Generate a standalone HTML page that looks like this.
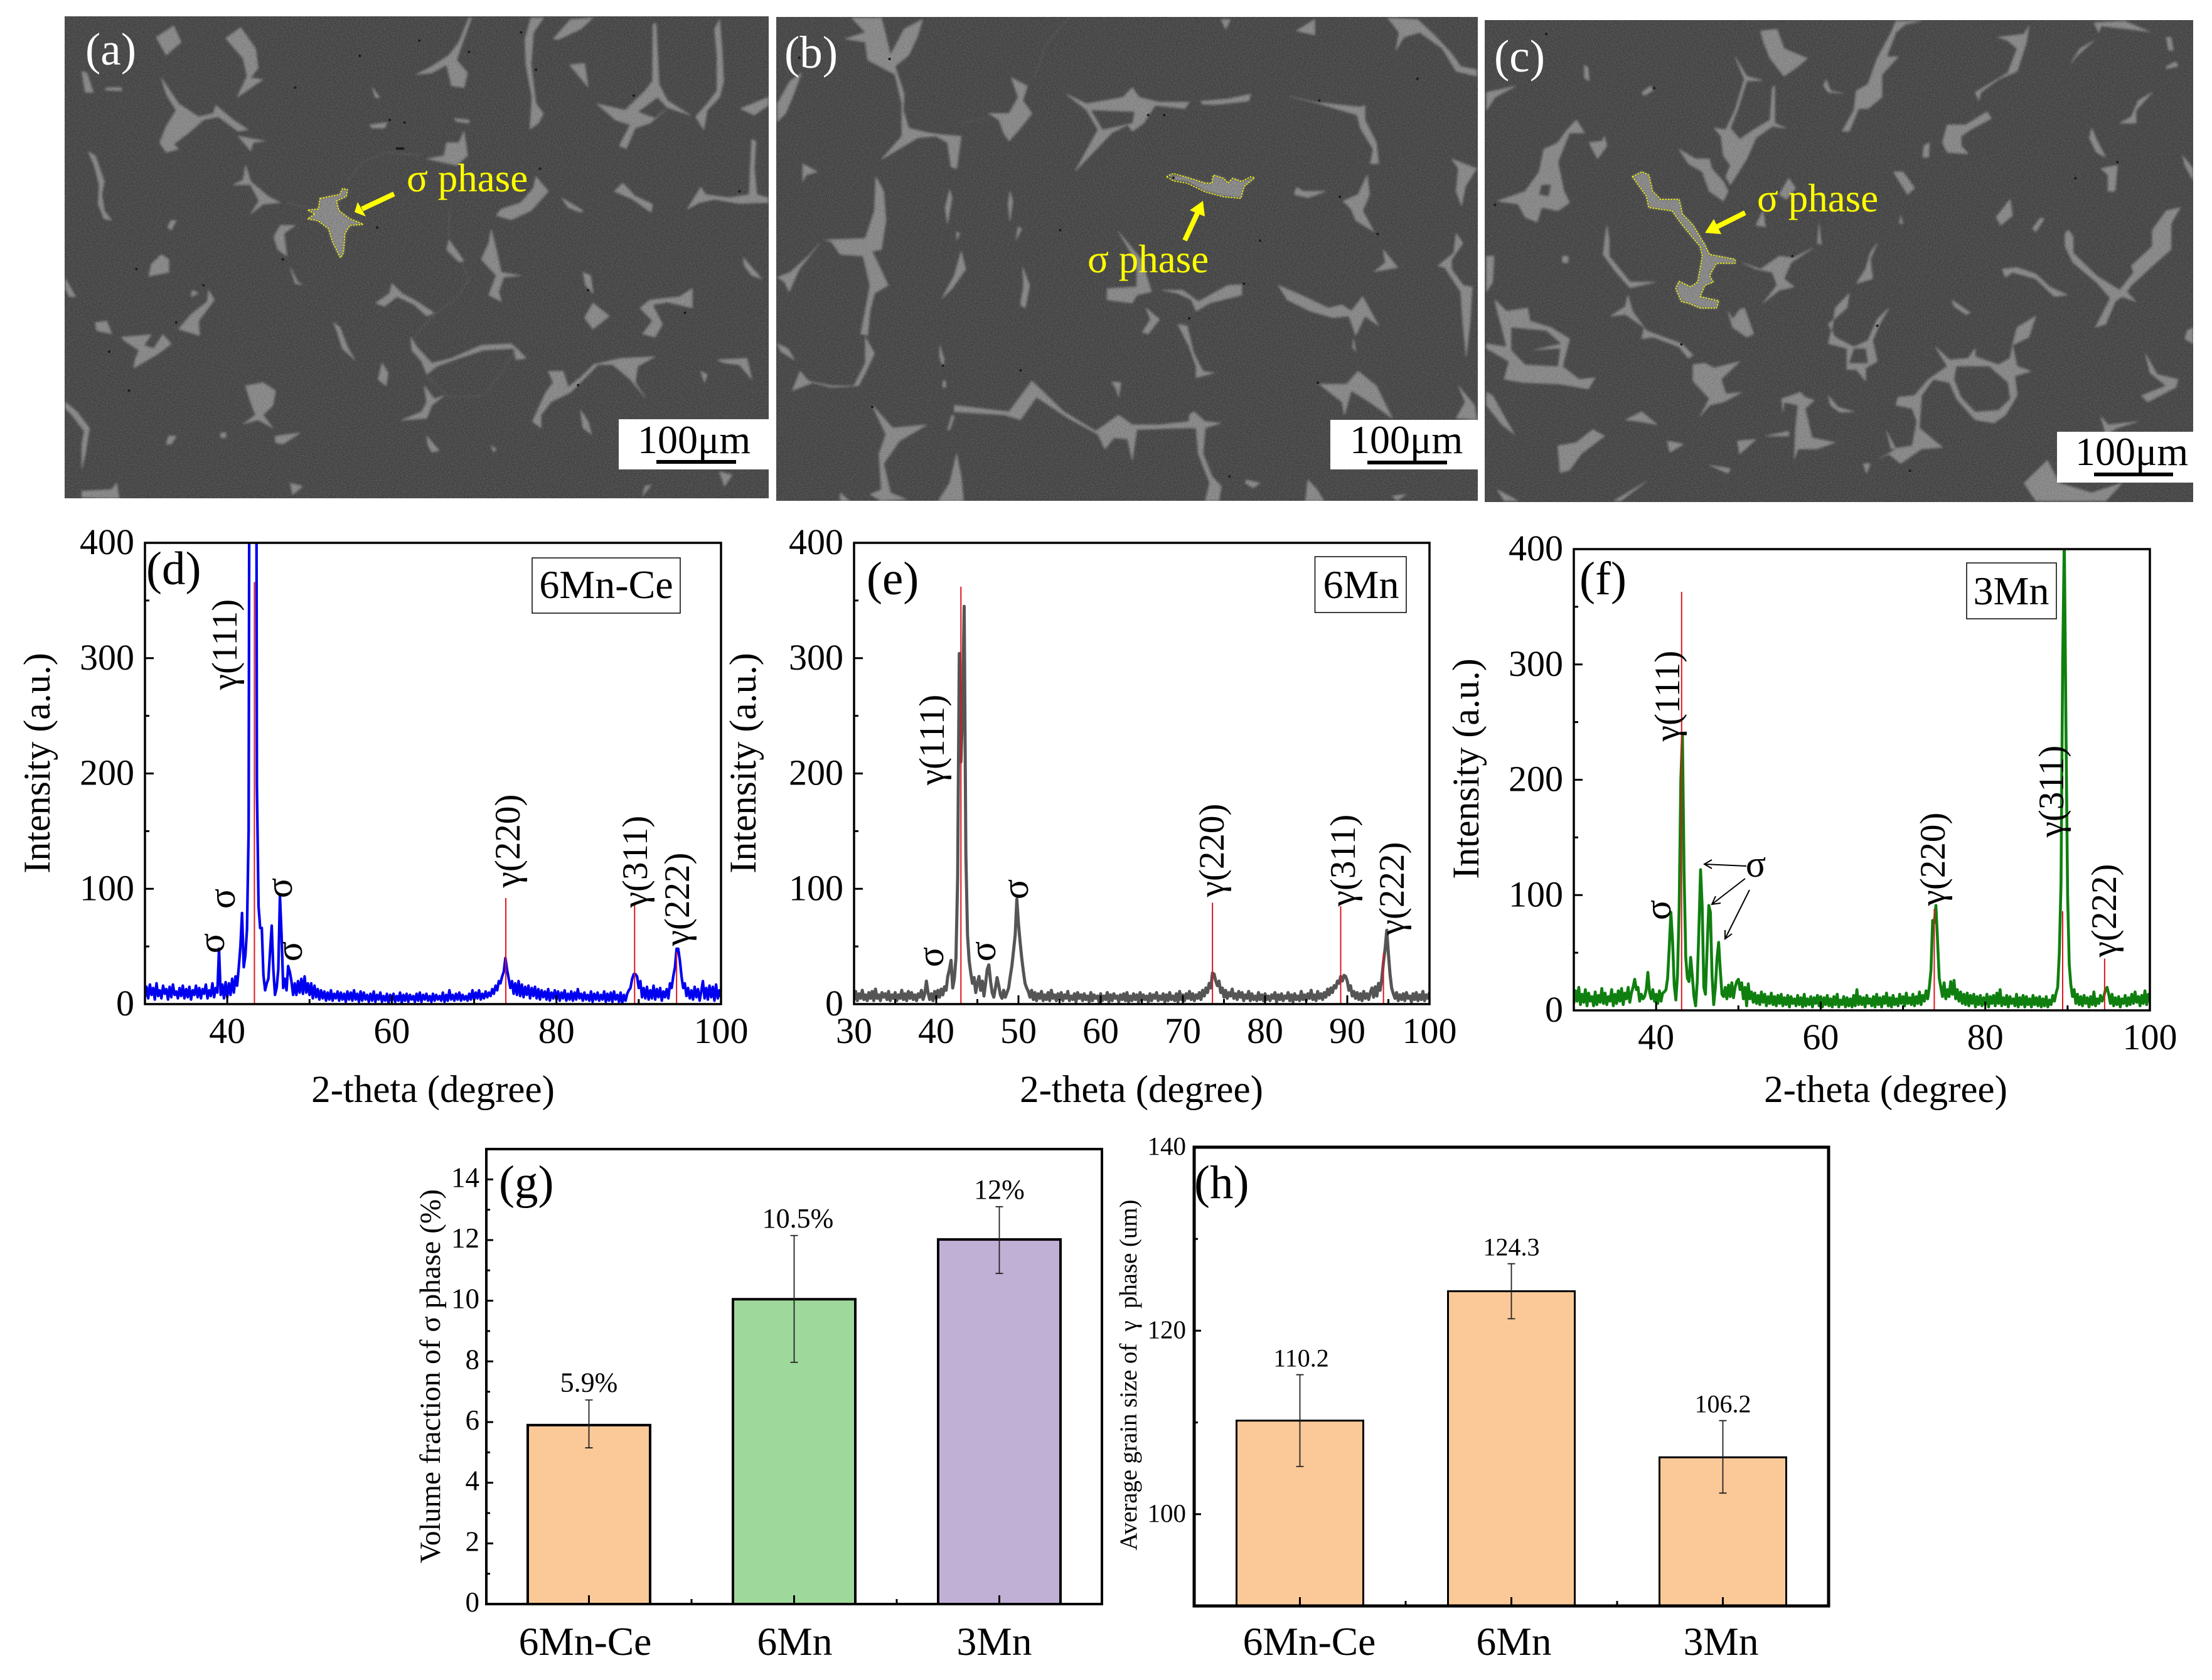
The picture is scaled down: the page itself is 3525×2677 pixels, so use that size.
<!DOCTYPE html>
<html lang="en">
<head>
<meta charset="utf-8">
<title>Microstructure, XRD and phase statistics of 6Mn-Ce, 6Mn and 3Mn alloys</title>
<style>
html,body{margin:0;padding:0;background:#fff}
svg{display:block}
text{font-family:"Liberation Serif","Noto Serif CJK SC",serif;fill:#000}
.blob{fill:#8a8a8a;stroke:#8a8a8a;stroke-width:1.5;stroke-linejoin:round}
.hole{fill:#434343}
.trace{fill:none;stroke:#626262;stroke-width:1;vector-effect:non-scaling-stroke}
.pore{fill:none;stroke:#0c0c0c;stroke-width:4;stroke-linecap:round;vector-effect:non-scaling-stroke}
.outline{fill:none;stroke:#ffff00;stroke-width:1.6;stroke-dasharray:2.5 2;vector-effect:non-scaling-stroke}
.yl{fill:#ffff00;font-size:63px}
.pl{fill:#fff;font-size:73px}
.sb{font-size:64px}
.peak{font-size:57px;text-anchor:middle}
.sig{font-size:60px;text-anchor:middle}
.leg{font-size:64px;text-anchor:middle}
.panel-tag{font-size:75px}
</style>
</head>
<body>
<svg id="figure" xmlns="http://www.w3.org/2000/svg" width="3525" height="2677" viewBox="0 0 3525 2677">
<defs>
<clipPath id="clip-a"><rect x="103" y="26" width="1122" height="768"/></clipPath>
<clipPath id="clip-b"><rect x="1237" y="27" width="1118" height="771"/></clipPath>
<clipPath id="clip-c"><rect x="2366" y="32" width="1129" height="768"/></clipPath>
<filter id="soften" x="-5%" y="-5%" width="110%" height="110%" color-interpolation-filters="sRGB"><feGaussianBlur stdDeviation="2.5 3.6"/></filter>
<filter id="grain" x="0" y="0" width="1" height="1" color-interpolation-filters="sRGB">
<feTurbulence type="fractalNoise" baseFrequency="0.55" numOctaves="2" seed="4"/>
<feColorMatrix type="matrix" values="1.6 0 0 0 -0.3  1.6 0 0 0 -0.3  1.6 0 0 0 -0.3  0 0 0 0 0.13"/>
</filter>
</defs>
<rect width="3525" height="2677" fill="#fff"/>

<!-- PANEL A -->
<g>
<rect x="103" y="26" width="1122" height="768" fill="#434343"/>
<g clip-path="url(#clip-a)"><g transform="scale(0.7908,0.5166)">
<g filter="url(#soften)">
<path class="blob" d="M315,115L350,80L365,130L335,170Z
M455,118L485,85L515,150L520,210L505,240L530,245L478,300L498,235L490,180Z
M945,55L925,130L905,170L870,205L838,230L870,225L900,200L910,265L935,270L942,225L920,185L930,140L950,55Z
M1070,55L1095,55L1075,100L1070,200L1080,320L1095,350L1085,380L1068,398L1072,300L1060,200L1058,120Z
M1115,120L1150,60L1195,55L1170,90L1125,122Z
M1203,320L1260,340L1300,280L1315,250L1316,75L1322,72L1328,260L1345,310L1392,356L1345,332L1325,300L1285,345L1320,365L1340,340L1310,380L1280,395L1262,458L1248,450L1270,385L1240,370Z
M1440,90L1450,60L1455,150L1458,250L1450,300L1425,340L1418,400L1402,360L1425,320L1445,280L1445,170Z
M1492,335L1548,300L1548,325L1520,355Z
M1148,200L1178,195L1185,268Z
M325,240L360,320L375,335L400,360L430,350L435,325L470,370L500,400L480,405L440,360L410,370L380,410L350,445L360,460L335,470L322,440L335,390L355,340L335,290Z
M165,220L175,225L188,285L172,285Z
M215,270L245,270L245,280L212,278Z
M480,420L535,435L510,440L505,465Z
M178,468L192,480L210,560L205,600L210,650L225,680L210,675L198,630L200,570L190,510Z
M495,510L505,560L540,605L565,625L530,630L505,660L522,620L505,570L470,570L490,555Z
M935,405L942,480L920,510L905,505L860,490L895,480L900,440L925,440Z
M1080,545L1105,590L1070,650L1030,678L1000,665L1010,645L1050,625L1075,580Z
M750,270L765,300L757,302Z
M745,385L780,378L775,395L750,395Z
M915,365L945,370L945,380L920,375Z
M1238,590L1255,565L1280,605L1315,630L1312,655L1275,615Z
M1132,610L1175,650L1170,655L1145,640Z
M1515,430L1523,435L1520,520L1525,600L1548,610L1548,625L1490,628L1440,615L1410,625L1385,645L1412,578L1422,600L1470,610L1510,600L1512,520Z
M645,612L685,600L690,582L700,585L698,605L678,620L683,650L705,675L732,692L705,695L695,720L692,780L686,795L670,745L662,705L640,680L620,675L635,660L620,648L642,645Z
M565,695L595,695L572,720L578,790L560,770L552,730Z
M345,680L355,680L345,710L338,700Z
M325,785L340,800L340,840L300,852L305,815Z
M585,825L600,870L610,878L595,875Z
M132,860L152,915L140,915L132,890Z
M990,708L1000,770L1010,840L1050,850L1015,855L1005,900L1010,930L985,910L1000,850L970,800L985,750Z
M905,740L935,805L925,808L900,770Z
M1498,795L1535,860L1515,850L1500,820Z
M1175,840L1190,850L1195,905L1180,880Z
M790,875L810,905L840,930L875,965L860,975L835,940L800,915L775,945L757,935L785,905Z
M388,895L400,905L385,915Z
M420,895L432,925L400,990L402,1035L360,1015L385,970L418,930Z
M1395,890L1395,950L1345,932L1315,940L1335,1000L1320,1040L1295,1030L1315,990L1290,950L1310,925L1370,915Z
M1195,935L1228,975L1195,1015L1178,980Z
M192,995L215,990L225,1030L195,1020Z
M245,1040L305,1032L290,1065L310,1075L328,1032L345,1060L320,1090L270,1135L272,1110L280,1080L250,1050Z
M672,995L685,1010L700,1070L715,1110L690,1075L680,1025Z
M828,1040L840,1070L870,1120L910,1105L970,1065L1030,1060L1045,1080L1060,1105L1040,1110L1035,1075L975,1080L925,1105L880,1130L860,1155L850,1115L830,1080Z
M770,1120L782,1150L778,1190L762,1170Z
M1105,1145L1135,1145L1145,1195L1180,1150L1195,1125L1250,1105L1320,1100L1285,1130L1280,1180L1300,1225L1270,1170L1235,1125L1205,1125L1150,1210L1110,1240L1090,1280L1090,1320L1073,1300L1100,1210L1115,1180Z
M1445,1110L1505,1105L1515,1170L1490,1125L1460,1120Z
M1412,1145L1425,1155L1420,1180Z
M855,1190L875,1230L895,1220L870,1250L860,1290L808,1297L850,1270L860,1240Z
M495,1190L530,1180L555,1205L550,1250L530,1280L550,1320L520,1295L490,1308L515,1280L505,1240Z
M132,1240L155,1270L180,1320L172,1400L165,1445L165,1370L170,1330L145,1280L132,1260Z
M1170,1265L1185,1300L1192,1340L1175,1320Z
M555,1345L605,1335L570,1370L555,1365Z
M340,1345L355,1345L345,1370L335,1370Z
M445,1335h10v15h-10z
M860,1345L885,1390L870,1395L862,1370Z
M165,1515L225,1510L235,1490L240,1538L165,1535Z
M585,1490L610,1500L590,1525Z
M1300,1500L1312,1495L1295,1530Z
M1450,1455L1475,1465L1460,1500Z
M990,1375L1000,1385L995,1395Z"/>
<path class="trace" d="M578,625L620,640M700,560L730,500L780,470L850,480M905,640L905,740M930,810L945,860L920,920L880,965L850,1010L835,1040M1165,1170L1195,1125M860,1160L905,1225L975,1220L1020,1130L1040,1075"/>
</g>
<path class="pore" d="M1080,215h.1M945,160h.1M845,125h.1M725,172h.1M1050,100h.1M1185,895h.1M1165,1188h.1M260,1205h.1M275,830h.1M220,1085h.1M1088,520h.1M800,458h12M785,370h.1M815,378h.1M1277,295h.1M595,270h.1M1490,590h.1M1380,965h.1M355,995h.1M410,880h.1M570,800h.1M760,702h.1"/>
</g></g>
<rect x="103" y="26" width="1122" height="768" filter="url(#grain)"/>
<g transform="scale(0.7908,0.5166)"><path class="outline" d="M645,612L685,600L690,582L700,585L698,605L678,620L683,650L705,675L732,692L705,695L695,720L692,780L686,795L670,745L662,705L640,680L620,675L635,660L620,648L642,645Z"/></g>
<text class="pl" x="136" y="103">(a)</text>
<text class="yl" x="648" y="305">σ phase</text>
<line x1="628" y1="309" x2="577" y2="333" stroke="#ffff00" stroke-width="8"/>
<polygon points="565,338 570,322 583,345" fill="#ffff00"/>
<rect x="986" y="668" width="239" height="80" fill="#fff"/>
<text class="sb" x="1016" y="722">100μm</text>
<rect x="1046" y="733" width="127" height="6" fill="#000"/>
</g>

<!-- PANEL B -->
<g>
<rect x="1237" y="27" width="1118" height="771" fill="#434343"/>
<g clip-path="url(#clip-b)"><g transform="translate(1230,0) scale(0.7270,0.5166)">
<g filter="url(#soften)">
<path class="blob" d="M175,55L240,55L250,110L260,170L290,90L330,60L320,110L300,170L270,205L290,290L288,340L300,395L345,410L370,415L415,420L405,520L393,515L385,440L360,420L320,425L240,492L285,420L285,320L270,230L210,185L205,130L160,120L205,100Z
M12,320L40,250L65,225L45,300L30,350L12,375Z
M68,505L100,530L75,540L68,560Z
M525,240L560,265L550,310L570,350L545,395L520,435L508,410L498,370L475,350L520,350L540,300Z
M645,290L690,320L770,300L790,270L805,300L850,315L915,315L905,335L840,325L815,380L790,405L780,385L745,410L665,528L715,400L690,340Z
M940,312L1000,305L1050,290L1045,312L980,322L945,322Z
M1135,298L1190,315L1290,330L1300,325L1300,370L1325,440L1330,505L1312,505L1318,460L1290,395L1283,355L1200,320Z
M1350,55L1415,60L1450,105L1490,165L1510,205L1545,215L1545,235L1500,220L1470,150L1420,100L1385,115L1368,155L1375,100Z
M985,60L1005,60L995,90Z
M1150,95L1190,60L1190,108Z
M1490,490L1545,520L1520,575L1512,635L1500,590L1505,520Z
M870,538L905,545L950,565L965,565L968,540L990,550L1000,565L1010,550L1030,560L1050,550L1058,548L1035,575L1028,610L990,605L950,590L910,560L880,555Z
M1150,578L1165,590L1215,590L1175,610L1145,600Z
M1305,540L1310,600L1295,650L1320,715L1280,680L1270,645L1252,620L1285,600Z
M228,545L245,590L250,680L240,770L220,775L255,880L225,905L215,960L210,1035L195,1030L210,920L215,880L200,790L150,785L130,745L115,740L205,735L225,650Z
M105,750L60,830L38,900L28,870L12,855L40,840L80,790Z
M390,585L395,610L385,690L380,640Z
M522,590L528,620L522,682L518,630Z
M540,700L548,705L535,740Z
M405,715L412,720L405,740Z
M415,775L425,830L395,890L373,920L400,850Z
M550,825L565,880L555,950L545,940L552,880Z
M760,715L810,800L832,900L800,910L790,935L735,925L735,890L800,885L800,810Z
M855,895L900,895L935,930L1000,880L1030,878L1030,910L960,935L930,960L920,925L890,905Z
M1110,880L1160,910L1220,950L1250,940L1270,960L1295,915L1330,1005L1300,975L1280,1035L1265,975L1230,980L1180,960L1130,925Z
M820,950L850,985L825,1030L812,1025L830,985Z
M890,1000L910,1005L925,1090L945,1145L970,1150L930,1165L930,1130L915,1070Z
M1340,770L1372,825L1320,838L1345,810Z
M1500,720L1515,750L1490,800L1490,830L1515,880L1535,885L1530,1000L1522,1100L1515,1000L1510,900L1475,825L1460,820L1495,780Z
M12,1060L35,1075L50,1110L20,1085Z
M205,1040L225,1090L205,1150L190,1190L130,1195L90,1180L45,1205L62,1145L80,1175L130,1190L180,1190L205,1120Z
M368,1065L378,1110L375,1130L368,1100Z
M375,1175h6v20h-6z
M400,1250L520,1270L570,1175L640,1270L710,1330L760,1280L790,1310L850,1310L915,1300L915,1280L925,1270L950,1300L985,1305L950,1320L945,1400L965,1470L985,1500L980,1545L950,1545L960,1490L935,1400L930,1320L910,1320L800,1325L790,1420L780,1355L750,1350L730,1385L715,1340L650,1290L580,1225L545,1295L510,1280L400,1270Z
M745,1178L765,1180L760,1225L755,1200Z
M1200,1185L1260,1185L1285,1145L1325,1190L1360,1290L1310,1240L1270,1205L1255,1280L1250,1240Z
M220,1250L265,1320L340,1310L280,1360L245,1430L260,1520L295,1540L240,1545L215,1525L240,1510L235,1400L250,1340Z
M395,1280L400,1285L390,1325L385,1325Z
M405,1400L415,1470L420,1545L365,1545L390,1490Z
M1040,1480L1070,1490L1055,1505L1038,1490Z
M1175,1480L1195,1510L1210,1545L1170,1545Z
M1505,1190L1540,1250L1545,1295L1500,1290L1520,1240Z
M1275,1045L1280,1085L1273,1070Z
M150,1520L170,1545L150,1545Z
M1360,1530L1390,1525L1370,1545Z"/>
<path class="hole" d="M700,340L795,345L790,380L725,400Z"/>
<path class="trace" d="M650,55L600,140L575,240M415,378L470,365"/>
</g>
<path class="pore" d="M1070,742h.1M1035,875h.1M1245,607h.1M1197,1180h.1M545,1142h.1M375,1128h.1M632,710h.1M915,982h.1M220,1255h.1M1003,1470h.1M860,355h.1M825,355h.1M258,182h.1M60,178h.1M1200,310h.1M1415,243h.1M1328,722h.1M880,548h.1"/>
</g></g>
<rect x="1237" y="27" width="1118" height="771" filter="url(#grain)"/>
<g transform="translate(1230,0) scale(0.7270,0.5166)"><path class="outline" d="M865,545L880,535L905,545L950,565L965,565L968,540L990,550L1000,565L1010,550L1030,560L1050,545L1058,548L1035,575L1028,612L990,607L950,592L910,565L880,558Z"/></g>
<text class="pl" x="1250" y="108">(b)</text>
<text class="yl" x="1733" y="434">σ phase</text>
<line x1="1888" y1="383" x2="1908" y2="340" stroke="#ffff00" stroke-width="8"/>
<polygon points="1917,320 1920,345 1896,335" fill="#ffff00"/>
<rect x="2120" y="669" width="235" height="79" fill="#fff"/>
<text class="sb" x="2151" y="722">100μm</text>
<rect x="2179" y="734" width="127" height="6" fill="#000"/>
</g>

<!-- PANEL C -->
<g>
<rect x="2366" y="32" width="1129" height="768" fill="#434343"/>
<g clip-path="url(#clip-c)"><g transform="translate(2360,0) scale(0.7430,0.5166)">
<g filter="url(#soften)">
<path class="blob" d="M600,95L635,90L650,150L700,180L680,205L650,235L620,180L605,125Z
M545,175L570,235L605,248L570,250L550,340L535,395L555,430L585,400L620,370L625,270L630,265L630,380L655,395L625,390L590,425L570,490L535,570L525,545L535,510L520,480L515,420L500,395L525,400L545,340L565,245Z
M425,460L460,490L490,490L495,520L520,560L530,590L520,620L490,590L475,530L445,505Z
M880,100L890,65L945,65L910,75L890,100L870,175L895,175L860,230L860,300L830,335L810,335L790,405L775,405L800,340L805,280L830,260L850,180Z
M1108,115L1165,105L1175,80L1170,130L1150,220L1110,245L1072,285L1068,310L1060,285L1130,225L1150,150L1130,125Z
M1315,70L1380,65L1435,98L1390,90L1330,80L1325,100Z
M1285,150L1315,125L1280,170L1265,195Z
M1470,115L1480,115L1485,155L1475,155Z
M1470,205L1490,190L1495,205L1470,212Z
M222,200L230,210L232,250L222,240Z
M740,245L750,280L778,288L745,285L735,265Z
M345,285L365,265L368,280L350,295Z
M12,285L75,265L30,300L12,340Z
M205,370L222,410L190,410L165,500L178,590L190,625L165,650L130,640L120,685L95,670L80,630L35,620L95,590L125,530L135,460L165,440L185,400Z
M265,420L270,450L250,490L232,440L260,435Z
M1085,345L1095,365L1050,400L1030,420L1030,450L1045,475L1000,470L990,440L1000,385L1040,385Z
M1440,285L1405,340L1405,380L1370,380L1395,360L1410,310Z
M1310,395L1320,430L1340,485L1320,470L1305,425Z
M950,450L962,440L960,485L948,485Z
M885,530L905,530L930,580L915,600Z
M1345,515L1365,510L1360,590L1345,590L1345,540L1330,520Z
M1505,480L1527,520L1527,555L1510,510Z
M325,545L345,530L360,540L368,590L385,615L425,615L432,660L455,695L480,755L490,785L545,800L545,812L505,812L490,850L498,870L480,880L470,915L510,928L505,950L470,950L445,935L430,930L418,890L425,868L450,885L465,870L475,790L470,760L430,690L410,650L360,640L355,605Z
M1135,615L1140,665L1115,695L1105,670Z
M1200,672L1208,675L1190,715L1183,705Z
M900,665L905,690L898,690Z
M725,690L730,755L722,750Z
M605,650L610,700L590,695Z
M270,695L275,740L275,790L320,870L375,870L320,888L290,840L262,785Z
M660,550L675,580L655,615L640,600Z
M850,750L835,800L840,860L805,875L825,830L835,780Z
M712,765L665,810L650,860L672,885L640,895L605,935L635,880L625,840L590,830L560,810L600,830L640,790L670,795Z
M1260,710L1270,730L1270,780L1320,850L1370,895L1400,840L1395,820L1440,760L1440,710L1470,650L1500,640L1480,690L1480,770L1440,820L1395,880L1385,900L1405,930L1375,915L1360,930L1340,1000L1318,1010L1350,920L1320,870L1270,810L1253,760L1253,720Z
M1118,830L1150,825L1190,845L1220,885L1258,910L1230,915L1190,860L1140,840L1125,855Z
M12,790L28,790L25,870L12,900Z
M175,790h12v20h-12z
M1010,925L1050,965L1040,970L1015,945Z
M315,910L325,960L355,1020L430,1060L455,1095L445,1105L425,1070L370,1040L345,1045L350,1010L310,970L278,975L310,945Z
M790,905L785,950L745,1000L760,1040L800,1070L830,1050L850,985L875,950L855,1000L840,1050L850,1115L825,1135L825,1175L805,1140L785,1140L785,1075L745,1060L755,1000L760,950Z
M530,960L540,985L555,955L565,950L585,1030L570,1040L540,1010Z
M1190,975L1175,1040L1140,1065L1150,1010Z
M975,1070L1005,1110L1045,1105L1060,1075L1060,1100L1110,1125L1135,1105L1140,1065L1150,1130L1180,1145L1145,1160L1150,1220L1125,1280L1100,1305L1060,1295L1020,1230L1005,1180L970,1170L945,1220L940,1320L990,1380L945,1385L900,1430L875,1400L855,1415L890,1385L870,1330L880,1385L925,1375L935,1300L925,1260L890,1250L895,1225L930,1220L960,1170L1000,1130Z
M30,925L55,960L100,950L105,990L150,1010L190,1045L175,1130L210,1170L245,1165L230,1200L170,1185L90,1180L50,1170L60,1115L12,1075L12,1060L55,1070L45,1010L35,960Z
M455,1125L480,1120L500,1135L555,1115L515,1170L525,1215L560,1210L520,1240L490,1250L470,1285L490,1230L455,1175Z
M12,1210L25,1220L50,1285L72,1340L45,1310L12,1250Z
M645,1230L685,1210L695,1225L715,1235L695,1260L710,1350L760,1365L720,1385L680,1385L672,1415L675,1320L680,1250L650,1240L648,1270Z
M745,1220L765,1255L800,1270L770,1272L750,1250Z
M240,1325L265,1345L215,1400L190,1450L170,1458L165,1375L205,1365Z
M345,1270L378,1310L340,1300L310,1295Z
M400,1360L435,1370L405,1395Z
M550,1360L590,1355L555,1400Z
M660,1330L610,1345L660,1345Z
M490,1435L535,1445L530,1460Z
M1425,1090L1450,1155L1495,1170L1490,1195L1430,1240L1417,1220L1470,1190L1435,1150Z
M1330,1285L1345,1310L1410,1300L1365,1320L1340,1340Z
M1515,1020L1527,1010L1527,1060L1510,1045Z
M1165,1490L1215,1420L1240,1490L1310,1520L1375,1490L1340,1545L1190,1545Z
M355,1485L300,1545L285,1545Z
M35,1510L80,1545L50,1545Z
M820,1430h15l-8,30z"/>
<path class="hole" d="M130,570L150,570L145,605L125,600Z
M800,1075L825,1075L830,1120L790,1120Z
M1020,1130L1090,1130L1130,1180L1135,1230L1110,1265L1060,1270L1030,1225L1015,1170Z
M65,1010L140,1020L172,1060L110,1080L170,1075L165,1130L95,1125L65,1080Z"/>
</g>
<path class="pore" d="M372,272h.1M30,632h.1M140,105h.1M1365,500h.1M1275,550h.1M430,1062h.1M668,790h.1M920,1452h.1M850,1005h.1"/>
</g></g>
<rect x="2366" y="32" width="1129" height="768" filter="url(#grain)"/>
<g transform="translate(2360,0) scale(0.7430,0.5166)"><path class="outline" d="M325,545L345,530L360,540L368,590L385,615L425,615L432,660L455,695L480,755L490,785L545,800L545,812L505,812L490,850L498,870L480,880L470,915L510,928L505,950L470,950L445,935L430,930L418,890L425,868L450,885L465,870L475,790L470,760L430,690L410,650L360,640L355,605Z"/></g>
<text class="pl" x="2381" y="114">(c)</text>
<text class="yl" x="2800" y="337">σ phase</text>
<line x1="2781" y1="339" x2="2737" y2="361" stroke="#ffff00" stroke-width="8"/>
<polygon points="2717,371 2743,373 2731,349" fill="#ffff00"/>
<rect x="3278" y="688" width="217" height="81" fill="#fff"/>
<text class="sb" x="3307" y="741">100μm</text>
<rect x="3337" y="753" width="126" height="6" fill="#000"/>
</g>

<g id="charts"></g>

<!-- Annotations on XRD panels -->
<g>
<text class="panel-tag" x="233" y="931">(d)</text>
<rect x="848" y="889" width="236" height="88" fill="#fff" stroke="#000" stroke-width="1.5"/>
<text class="leg" x="966" y="953">6Mn-Ce</text>
<text class="peak" transform="translate(377,1027) rotate(-90)">γ(111)</text>
<text class="peak" transform="translate(828,1340) rotate(-90)">γ(220)</text>
<text class="peak" transform="translate(1031,1373) rotate(-90)">γ(311)</text>
<text class="peak" transform="translate(1098,1433) rotate(-90)">γ(222)</text>
<text class="sig" dy="13" transform="translate(344,1503) rotate(-90)">σ</text>
<text class="sig" dy="13" transform="translate(361,1432) rotate(-90)">σ</text>
<text class="sig" dy="13" transform="translate(452,1415) rotate(-90)">σ</text>
<text class="sig" dy="13" transform="translate(468,1516) rotate(-90)">σ</text>
</g>
<g>
<text class="panel-tag" x="1381" y="947">(e)</text>
<rect x="2095.5" y="887" width="145.5" height="89" fill="#fff" stroke="#000" stroke-width="1.5"/>
<text class="leg" x="2169" y="953">6Mn</text>
<text class="peak" transform="translate(1504,1179) rotate(-90)">γ(111)</text>
<text class="peak" transform="translate(1950,1355) rotate(-90)">γ(220)</text>
<text class="peak" transform="translate(2159,1371) rotate(-90)">γ(311)</text>
<text class="peak" transform="translate(2237,1416) rotate(-90)">γ(222)</text>
<text class="sig" dy="13" transform="translate(1490,1525) rotate(-90)">σ</text>
<text class="sig" dy="13" transform="translate(1573,1516) rotate(-90)">σ</text>
<text class="sig" dy="13" transform="translate(1625,1417) rotate(-90)">σ</text>
</g>
<g>
<text class="panel-tag" x="2517" y="947">(f)</text>
<rect x="3134" y="897" width="143" height="89" fill="#fff" stroke="#000" stroke-width="1.5"/>
<text class="leg" x="3205" y="963">3Mn</text>
<text class="peak" transform="translate(2676,1109) rotate(-90)">γ(111)</text>
<text class="peak" transform="translate(3099,1369) rotate(-90)">γ(220)</text>
<text class="peak" transform="translate(3288,1261) rotate(-90)">γ(311)</text>
<text class="peak" transform="translate(3372,1451) rotate(-90)">γ(222)</text>
<text class="sig" dy="13" transform="translate(2649,1450) rotate(-90)">σ</text>
<text class="sig" x="2798" y="1397">σ</text>
<g fill="none" stroke="#000" stroke-width="2">
<path d="M2783,1380L2716,1377M2728,1370L2716,1377L2728,1384"/>
<path d="M2781,1400L2728,1441M2734,1428L2728,1441L2742,1439"/>
<path d="M2788,1418L2749,1496M2749,1482L2749,1496L2760,1488"/>
</g>
</g>
<g>
<text class="panel-tag" x="795" y="1909">(g)</text>
<text class="panel-tag" x="1903" y="1909">(h)</text>
</g>
</svg>

<script>
const NS = 'http://www.w3.org/2000/svg';
const thetaStart = 30;
const thetaStep = 0.2;

const dCounts = [
6,15,5,17,8,14,4,18,7,12,5,16,9,13,4,15,6,17,8,11,5,14,7,16,5,
13,6,15,4,12,8,16,6,14,5,13,9,17,5,12,7,18,6,14,10,48,8,17,5,19,
6,18,8,22,10,24,16,32,50,79,32,42,65,150,900,1600,1700,1100,190,85,66,66,25,12,18,
22,45,68,30,8,14,30,94,60,14,22,12,33,28,20,8,18,8,20,10,22,9,24,10,18,
8,18,5,16,6,13,4,12,5,11,3,10,4,12,3,9,5,11,3,10,4,9,2,11,4,
10,3,12,4,9,2,11,3,10,4,8,2,9,3,11,2,8,4,10,2,7,3,9,1,8,
3,9,2,7,3,10,1,8,3,9,2,8,4,7,2,9,3,10,2,8,4,9,3,7,2,
9,3,8,4,7,3,10,2,8,3,12,4,8,3,9,4,10,3,8,4,7,3,9,4,12,
4,10,5,12,4,9,5,11,6,10,7,13,9,16,12,20,18,24,28,40,30,22,14,20,9,
18,8,20,7,17,6,15,8,16,5,14,7,15,5,13,4,12,6,11,4,13,3,10,5,12,
4,11,3,10,5,12,3,9,4,11,3,10,4,13,5,9,3,10,4,8,3,11,2,9,4,
10,3,8,4,11,2,9,3,10,2,11,4,8,2,10,1,8,3,9,12,14,22,26,26,24,
14,20,6,14,5,15,4,12,5,16,4,13,6,14,3,11,6,13,5,18,14,24,32,48,48,
38,24,14,18,7,14,5,12,4,15,6,13,3,11,20,5,14,4,16,6,15,3,17,5,12,
6];

const eCounts = [
4,11,3,9,5,12,4,8,3,10,5,11,3,13,5,8,3,10,6,9,4,11,3,8,5,
10,3,8,5,12,4,9,3,11,5,10,4,8,3,9,6,12,4,9,20,10,4,9,3,11,
5,12,6,13,8,15,12,24,30,38,14,22,40,110,304,210,255,345,130,60,38,27,18,23,10,
18,24,12,20,7,18,30,34,20,10,6,14,23,16,8,5,12,6,10,14,24,33,46,60,91,
70,54,40,28,18,14,11,6,12,4,10,3,9,5,11,3,8,4,10,3,12,5,8,3,9,
4,10,3,8,5,11,3,7,4,9,2,10,5,8,3,9,4,7,2,10,3,8,5,7,2,
9,3,7,4,10,2,8,3,9,5,7,2,8,4,9,3,10,2,7,3,9,4,8,2,10,
3,8,4,7,2,9,3,8,5,10,3,7,4,9,2,8,3,10,4,7,3,9,2,11,4,
8,3,9,5,11,4,9,3,8,5,10,4,12,7,14,10,18,14,27,26,20,16,20,10,14,
6,12,5,10,7,13,5,9,4,11,6,10,3,8,5,11,3,9,4,7,3,10,4,8,3,
9,4,7,3,8,5,10,2,8,4,9,3,7,5,10,3,8,2,9,4,7,3,11,4,8,
3,9,5,12,4,8,3,11,5,9,4,10,6,13,8,14,10,16,14,20,18,24,20,25,24,
20,12,16,7,11,5,10,4,9,3,11,5,9,4,10,14,6,15,7,18,12,22,36,48,64,
44,26,14,9,5,10,3,8,4,9,3,10,5,7,2,9,4,10,3,8,4,11,3,8,5,
10];

const fCounts = [
6,17,8,20,5,14,7,18,4,15,8,12,4,16,5,13,7,19,6,15,5,12,8,18,4,
14,6,17,8,19,5,15,10,20,7,15,20,27,18,20,8,14,10,12,18,33,16,10,18,8,
14,6,17,8,15,16,18,28,55,85,60,22,9,30,90,200,239,120,46,28,25,46,30,12,4,
25,70,122,90,20,14,55,91,85,30,5,20,45,59,35,14,12,20,10,22,12,24,11,20,25,
27,18,24,10,20,4,23,10,16,7,15,6,13,5,16,7,14,4,12,6,15,5,12,4,13,
6,14,4,11,5,13,3,12,6,10,4,13,5,11,3,14,4,10,5,12,3,11,6,13,4,
12,3,11,5,13,4,10,3,12,5,14,3,9,5,12,3,11,4,10,3,13,4,18,5,12,
5,11,3,13,6,10,4,12,3,14,5,11,3,12,6,15,4,11,3,13,5,10,4,14,6,
12,4,15,6,11,5,14,4,12,6,16,5,13,8,17,10,20,35,78,76,91,60,28,20,12,
24,10,18,12,25,14,26,10,18,8,16,6,14,5,15,4,13,6,14,3,12,5,13,4,11,
5,14,3,12,6,13,4,15,6,18,4,11,5,13,3,12,6,10,4,14,3,11,5,13,3,
12,5,10,3,13,5,11,4,12,3,10,4,12,3,9,5,13,8,15,20,50,110,300,410,250,
100,40,22,12,18,6,14,5,12,4,13,6,11,3,12,5,16,4,10,6,13,8,12,18,20,
14,6,14,4,11,5,12,3,10,6,13,4,11,5,14,6,16,7,12,4,13,6,17,5,14,
7];

const dRefTheta = [43.3, 73.85, 89.5, 94.6];
const dRefHeight = [366, 92, 88, 45];
const eRefTheta = [43.0, 73.6, 89.2, 94.4];
const eRefHeight = [362, 88, 85, 44];
const fRefTheta = [43.1, 73.8, 89.4, 94.5];
const fRefHeight = [363, 88, 86, 45];

const dTickLabels = [40, 60, 80, 100];
const eTickLabels = [30, 40, 50, 60, 70, 80, 90, 100];
const fTickLabels = [40, 60, 80, 100];
const yTickLabels = [0, 100, 200, 300, 400];

const gCategories = ['6Mn-Ce', '6Mn', '3Mn'];
const gValues = [5.9, 10.05, 12.02];
const gErrHigh = [6.73, 12.15, 13.1];
const gErrLow = [5.15, 7.97, 10.9];
const gPrinted = ['5.9%', '10.5%', '12%'];
const gFills = ['#fbc998', '#9fd89b', '#c0b0d6'];
const gYTicks = [0, 2, 4, 6, 8, 10, 12, 14];

const hCategories = ['6Mn-Ce', '6Mn', '3Mn'];
const hValues = [110.2, 124.3, 106.2];
const hErrHigh = [115.2, 127.3, 110.2];
const hErrLow = [105.2, 121.3, 102.3];
const hPrinted = ['110.2', '124.3', '106.2'];
const hFills = ['#fbc998', '#fbc998', '#fbc998'];
const hYTicks = [100, 120, 140];

const layer = document.getElementById('charts');

function add(parent, tag, attrs, txt) {
  const el = document.createElementNS(NS, tag);
  for (const k in attrs) el.setAttribute(k, attrs[k]);
  if (txt !== undefined) el.textContent = txt;
  parent.appendChild(el);
  return el;
}

function drawXrd(o) {
  const sx = v => o.left + (v - 30) * (o.right - o.left) / 70;
  const sy = v => o.bottom - v * (o.bottom - o.top) / 400;
  const g = add(layer, 'g', {});
  
  

  const clip = add(g, 'clipPath', { id: 'plot-clip-' + o.id });
  add(clip, 'rect', { x: o.left, y: o.top, width: o.right - o.left, height: o.bottom - o.top });

  const pts = o.counts.map((c, i) => sx(thetaStart + i * thetaStep).toFixed(1) + ',' + sy(c).toFixed(1)).join(' ');
  const trace = add(g, 'polyline', { points: pts, fill: 'none', stroke: o.color, 'stroke-width': o.width, 'stroke-linejoin': 'round', 'clip-path': 'url(#plot-clip-' + o.id + ')' });
  
  

  o.refTheta.forEach((t, i) => {
    const ref = add(g, 'line', { x1: sx(t), x2: sx(t), y1: sy(0), y2: sy(o.refHeight[i]), stroke: '#e0141e', 'stroke-width': 2 });
    
    
  });

  const frame = add(g, 'rect', { x: o.left, y: o.top, width: o.right - o.left, height: o.bottom - o.top, fill: 'none', stroke: '#000', 'stroke-width': 3.5 });
  
  

  for (let v = 30; v <= 100; v += o.minorX) {
    const isMajor = o.ticks.includes(v);
    const t = add(g, 'line', { x1: sx(v), x2: sx(v), y1: o.bottom, y2: o.bottom - (isMajor ? 14 : 8), stroke: '#000', 'stroke-width': 3 });
    
    
  }
  o.ticks.forEach(v => {
    const lab = add(g, 'text', { x: sx(v), y: o.bottom + 62, 'text-anchor': 'middle', 'font-size': 58 }, String(v));
    
    
  });
  for (let v = 0; v <= 400; v += 50) {
    const t = add(g, 'line', { x1: o.left, x2: o.left + (v % 100 === 0 ? 14 : 7), y1: sy(v), y2: sy(v), stroke: '#000', 'stroke-width': 3 });
    
    
  }
  yTickLabels.forEach(v => {
    const lab = add(g, 'text', { x: o.left - 17, y: sy(v) + 18, 'text-anchor': 'end', 'font-size': 58 }, String(v));
    
    
  });
  const xt = add(g, 'text', { x: o.xTitleX, y: 1756, 'text-anchor': 'middle', 'font-size': 61 }, '2-theta (degree)');
  
  
  const yt = add(g, 'text', { transform: 'translate(' + o.yTitleX + ',' + o.yTitleY + ') rotate(-90)', 'text-anchor': 'middle', 'font-size': 60 }, 'Intensity (a.u.)');
  
  
}

drawXrd({ id: 'd', left: 231, right: 1149, top: 865, bottom: 1600, counts: dCounts, color: '#0000f0', width: 4.2, refTheta: dRefTheta, refHeight: dRefHeight, ticks: dTickLabels, minorX: 10, xTitleX: 690, yTitleX: 79, yTitleY: 1216 });
drawXrd({ id: 'e', left: 1361, right: 2278, top: 865, bottom: 1600, counts: eCounts, color: '#555555', width: 5, refTheta: eRefTheta, refHeight: eRefHeight, ticks: eTickLabels, minorX: 5, xTitleX: 1819, yTitleX: 1204, yTitleY: 1216 });
drawXrd({ id: 'f', left: 2508, right: 3426, top: 875, bottom: 1610, counts: fCounts, color: '#0f7f0f', width: 4.6, refTheta: fRefTheta, refHeight: fRefHeight, ticks: fTickLabels, minorX: 10, xTitleX: 3005, yTitleX: 2356, yTitleY: 1225 });

function drawBars(o) {
  const sy = v => o.bottom - (v - o.yMin) * (o.bottom - o.top) / (o.yMax - o.yMin);
  const step = (o.right - o.left) / o.categories.length;
  const cx = i => o.left + (i + 0.5) * step;
  const g = add(layer, 'g', {});
  
  

  o.values.forEach((v, i) => {
    const bar = add(g, 'rect', { x: cx(i) - o.barWidth / 2, y: sy(v), width: o.barWidth, height: o.bottom - sy(v), fill: o.fills[i], stroke: '#000', 'stroke-width': o.barStroke });
    
    
    const eb = add(g, 'path', { d: 'M' + cx(i) + ',' + sy(o.errHigh[i]) + 'V' + sy(o.errLow[i]) + 'M' + (cx(i) - 6) + ',' + sy(o.errHigh[i]) + 'h12M' + (cx(i) - 6) + ',' + sy(o.errLow[i]) + 'h12', fill: 'none', stroke: '#222', 'stroke-width': 1.8 });
    
    
    const val = add(g, 'text', { x: cx(i) + o.printedNudge[i], y: sy(o.errHigh[i]) - 13, 'text-anchor': 'middle', 'font-size': o.valueFont }, o.printed[i]);
    
    
    const cat = add(g, 'text', { x: cx(i) + o.catNudge[i], y: 2637, 'text-anchor': 'middle', 'font-size': 63.5 }, o.categories[i]);
    
    
  });

  const frame = add(g, 'rect', { x: o.left, y: o.top, width: o.right - o.left, height: o.bottom - o.top, fill: 'none', stroke: '#000', 'stroke-width': o.frameStroke });
  
  

  o.categories.forEach((c, i) => {
    const t = add(g, 'line', { x1: cx(i), x2: cx(i), y1: o.bottom, y2: o.bottom - 14, stroke: '#000', 'stroke-width': 3 });
    
    
    if (i > 0) {
      const m = add(g, 'line', { x1: cx(i) - step / 2, x2: cx(i) - step / 2, y1: o.bottom, y2: o.bottom - 8, stroke: '#000', 'stroke-width': 3 });
      
      
    }
  });
  for (let v = o.yMin; v <= o.yMax; v += o.minorY) {
    const isMajor = o.yTicks.includes(v);
    const t = add(g, 'line', { x1: o.left, x2: o.left + (isMajor ? 11 : 6), y1: sy(v), y2: sy(v), stroke: '#000', 'stroke-width': 3 });
    
    
  }
  o.yTicks.forEach(v => {
    const lab = add(g, 'text', { x: o.left - o.tickGap, y: sy(v) + 12, 'text-anchor': 'end', 'font-size': o.tickFont }, String(v));
    
    
  });
  const yt = add(g, 'text', { transform: 'translate(' + o.titleX + ',' + o.titleY + ') rotate(-90)', 'text-anchor': 'middle', 'font-size': o.titleFont, textLength: o.titleLen, lengthAdjust: 'spacing' }, o.title);
  
  
}

drawBars({ id: 'g', left: 775, right: 1756, top: 1831, bottom: 2556, yMin: 0, yMax: 15, minorY: 1, categories: gCategories, values: gValues, errHigh: gErrHigh, errLow: gErrLow, printed: gPrinted, fills: gFills, yTicks: gYTicks, barWidth: 195, barStroke: 4, frameStroke: 4, valueFont: 44, tickFont: 45, tickGap: 11, printedNudge: [0, 6, 0], catNudge: [-6, 1, -8], title: 'Volume fraction of σ phase (%)', titleX: 701, titleY: 2193, titleFont: 47, titleLen: 596 });
drawBars({ id: 'h', left: 1903, right: 2914, top: 1828, bottom: 2559, yMin: 90, yMax: 140, minorY: 10, categories: hCategories, values: hValues, errHigh: hErrHigh, errLow: hErrLow, printed: hPrinted, fills: hFills, yTicks: hYTicks, barWidth: 202, barStroke: 3, frameStroke: 5, valueFont: 40, tickFont: 41, tickGap: 13, printedNudge: [2, 0, 0], catNudge: [15, 4, -3], title: 'Average grain size of \u00a0γ\u00a0 phase (um)', titleX: 1811, titleY: 2191, titleFont: 39, titleLen: 559 });
</script>
</body>
</html>
